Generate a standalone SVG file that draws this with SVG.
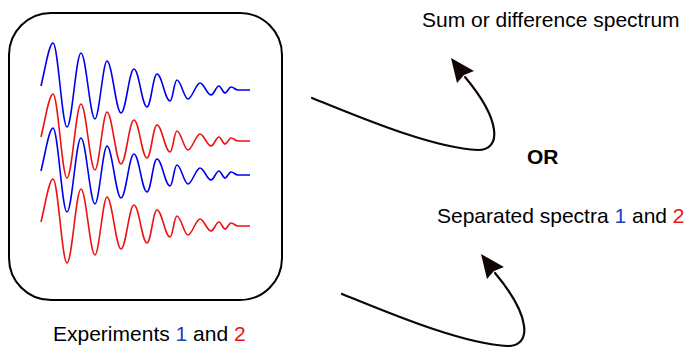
<svg xmlns="http://www.w3.org/2000/svg" xmlns:xlink="http://www.w3.org/1999/xlink" width="689" height="347" viewBox="0 0 689 347">
<style>
text{font-family:"Liberation Sans",Arial,sans-serif;font-size:21px;fill:#000}
.b{fill:#1a3fbf}.r{fill:#ee1111}
.wave{fill:none;stroke-width:1.6;stroke-linejoin:round}
.conn{fill:none;stroke:#110505;stroke-width:2.2;stroke-linecap:round}
.head{fill:#110505}
</style>
<defs>
<path id="fid" d="M41,86 C45,70 49,43 53,43 C58,43 62,127 67,127 C72,127 76,53 81,53 C86,53 90,119 95,119 C99,119 103,61 107,61 C112,61 116,113 121,113 C126,113 129,69 134,69 C139,69 142,107 147,107 C151,107 153,74 157,74 C162,74 165,101 170,101 C173,101 174,80 177,80 C181,80 184,99 188,99 C192,99 196,83 200,83 C204,83 207,95 211,95 C214,95 216,86 219,86 C221,86 223,93 225,93 C227,93 229,87 231,87 C234,87 235,90 238,90 L250,90"/>
<g id="arr">
<path class="conn" d="M312,98 C350,113 430,148 478,150 C502,150 501,120 465,77"/>
<polygon class="head" points="451,58 474,71 464,75 457,83"/>
</g>
</defs>
<g id="experiments">
<rect x="9" y="13" width="273" height="287" rx="42" ry="42" fill="#fff" stroke="#000" stroke-width="2"/>
<use xlink:href="#fid" class="wave" stroke="#0000ee"/>
<use xlink:href="#fid" class="wave" stroke="#ee1111" transform="translate(0,51)"/>
<use xlink:href="#fid" class="wave" stroke="#0000ee" transform="translate(0,85)"/>
<use xlink:href="#fid" class="wave" stroke="#ee1111" transform="translate(0,136)"/>
</g>
<g id="connectors">
<use xlink:href="#arr"/>
<use xlink:href="#arr" transform="translate(30,196)"/>
</g>
<g id="sum"><text x="422" y="27">Sum or difference spectrum</text></g>
<g id="or"><text x="527" y="164" font-weight="bold">OR</text></g>
<g id="separated"><text x="437" y="223">Separated spectra <tspan class="b">1</tspan> and <tspan class="r">2</tspan></text></g>
<g id="label"><text x="53" y="341">Experiments <tspan class="b">1</tspan> and <tspan class="r">2</tspan></text></g>
</svg>
